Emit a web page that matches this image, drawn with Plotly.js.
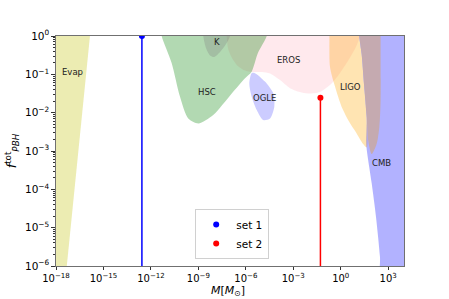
<!DOCTYPE html>
<html>
<head>
<meta charset="utf-8">
<script src="https://cdn.plot.ly/plotly-3.0.1.min.js"></script>
<style>html,body{margin:0;padding:0;background:#fff;} #chart{width:449px;height:299px;}</style>
</head>
<body>
<div id="chart"></div>
<script>
// Constraint regions: log10(M / Msun) and log10(f_PBH) vertices
const evapLogM = [-19, -15.78, -17.44, -19];
const evapLogF = [0.3, 0.3, -6.5, -6.5];

const erosLogM = [-7.25, -7.21, -7.13, -6.94, -6.56, -6.05, -5.63, -4.98, -4.47, -3.84, -3.21, -2.58, -2.07, -1.31, -0.68, -0.05, 0.58, 0.96, 1.22, 1.3];
const erosLogF = [0.3, 0, -0.31, -0.52, -0.76, -0.90, -0.94, -0.94, -0.98, -1.15, -1.36, -1.46, -1.50, -1.46, -1.28, -0.97, -0.57, -0.29, 0, 0.3];

const hscLogM = [-11.4, -11.32, -10.69, -10.16, -9.64, -9.0, -8.06, -6.89, -6.05, -5.63, -5.23, -4.68, -4.6];
const hscLogF = [0.3, 0, -0.705, -1.585, -2.15, -2.28, -2.06, -1.50, -1.10, -0.93, -0.44, 0, 0.3];

const kLogM = [-8.69, -8.69, -8.52, -8.27, -8.0, -7.63, -7.25, -7.0, -7.0];
const kLogF = [0.3, 0, -0.31, -0.50, -0.55, -0.42, -0.21, 0, 0.3];

const ogleLogM = [-5.63, -5.78, -5.63, -5.31, -4.90, -4.47, -4.20, -4.26, -4.79, -5.42, -5.63];
const ogleLogF = [-0.97, -1.235, -1.585, -1.93, -2.19, -2.15, -1.85, -1.50, -1.19, -0.97, -0.97];

const ligoLogM = [-0.75, -0.72, -0.68, -0.36, 0.06, 0.58, 0.96, 1.42, 1.64, 1.64, 1.47, 1.32, 1.17, 1.17];
const ligoLogF = [0.3, 0, -0.80, -1.32, -1.85, -2.27, -2.51, -2.82, -2.91, -2.12, -1.25, -0.47, 0, 0.3];

const cmbLogM = [1.17, 1.17, 1.32, 1.47, 1.64, 1.62, 1.68, 1.96, 2.23, 2.48, 2.58, 5, 5];
const cmbLogF = [0.3, 0, -0.47, -1.25, -2.12, -2.85, -3.08, -3.85, -4.72, -5.76, -6.5, -6.5, 0.3];

const xrayLogM = [1.17, 1.17, 1.32, 1.47, 1.64, 1.74, 1.96, 2.27, 2.44, 2.52, 2.52, 2.52];
const xrayLogF = [0.3, 0, -0.47, -1.25, -2.12, -2.73, -3.08, -2.82, -2.38, -1.69, 0, 0.3];

// Benchmark points
const setNames = ['set 1', 'set 2'];
const setMass = [2.7e-13, 0.052];
const setF = [1.0, 0.0245];
const setColors = ['#0000ff', '#ff0000'];

// Region labels
const labelText = ['Evap', 'K', 'HSC', 'OGLE', 'EROS', 'LIGO', 'CMB'];
const labelLogM = [-16.93, -7.84, -8.47, -4.83, -3.29, 0.63, 2.59];
const labelLogF = [-0.93, -0.15, -1.45, -1.63, -0.63, -1.32, -3.32];

// Axis ticks
const xTickExp = [-18, -15, -12, -9, -6, -3, 0, 3];
const yTickExp = [-6, -5, -4, -3, -2, -1, 0];

const p10 = a => a.map(v => Math.pow(10, v));
const sup = e => '10<sup>' + (e < 0 ? '\u2212' + (-e) : e) + '</sup>';

function region(lm, lf, color, smooth) {
  return {
    x: p10(lm), y: p10(lf), mode: 'lines', fill: 'toself', fillcolor: color,
    line: {width: 0, shape: smooth ? 'spline' : 'linear', smoothing: 0.75},
    hoverinfo: 'skip', showlegend: false
  };
}

const traces = [
  region(erosLogM, erosLogF, 'rgba(255,192,203,0.35)', true),
  region(evapLogM, evapLogF, 'rgba(191,191,0,0.3)', false),
  region(hscLogM, hscLogF, 'rgba(0,128,0,0.3)', true),
  region(kLogM, kLogF, 'rgba(128,128,128,0.3)', true),
  region(ogleLogM, ogleLogF, 'rgba(0,0,255,0.2)', true),
  region(ligoLogM, ligoLogF, 'rgba(255,165,0,0.3)', true),
  region(cmbLogM, cmbLogF, 'rgba(0,0,255,0.3)', true),
  region(xrayLogM, xrayLogF, 'rgb(197,170,176)', true)
];

for (let i = 0; i < setNames.length; i++) {
  traces.push({
    x: [setMass[i], setMass[i]], y: [1e-7, setF[i]], mode: 'lines',
    line: {color: setColors[i], width: 1.5}, showlegend: false, hoverinfo: 'skip'
  });
}
for (let i = 0; i < setNames.length; i++) {
  traces.push({
    x: [setMass[i]], y: [setF[i]], mode: 'markers', name: setNames[i],
    marker: {color: setColors[i], size: 6}, cliponaxis: true
  });
}

const yMinor = [];
for (let e = -6; e < 0; e++) for (let k = 2; k <= 9; k++) yMinor.push(k * Math.pow(10, e));

const annotations = labelText.map((t, i) => ({
  x: labelLogM[i], y: labelLogF[i], xref: 'x', yref: 'y', text: t, showarrow: false,
  font: {family: 'DejaVu Sans', size: 8.5, color: '#222'}
}));
annotations.push({
  x: 0.495, y: -0.1435, xref: 'paper', yref: 'paper', xanchor: 'center', yanchor: 'bottom',
  text: '<i>M</i>[<i>M</i><sub>\u2299</sub>]', showarrow: false,
  font: {family: 'DejaVu Sans', size: 11, color: '#000'}, borderpad: 0
});

const layout = {
  width: 449, height: 299,
  margin: {l: 56, r: 45, t: 36, b: 33},
  paper_bgcolor: '#fff', plot_bgcolor: '#fff',
  font: {family: 'DejaVu Sans', size: 10, color: '#000'},
  showlegend: true,
  legend: {
    x: 0.40, y: 0.03, xanchor: 'left', yanchor: 'bottom',
    bgcolor: 'rgba(255,255,255,0.9)', bordercolor: '#d0d0d0', borderwidth: 1,
    font: {family: 'DejaVu Sans', size: 10.5, color: '#000'},
    itemwidth: 30, tracegroupgap: 0
  },
  xaxis: {
    type: 'log', range: [-18, 4], showgrid: false, zeroline: false,
    showline: true, linecolor: '#707070', linewidth: 1.2, mirror: true,
    ticks: 'outside', ticklen: 3, tickcolor: '#333',
    tickmode: 'array', tickvals: p10(xTickExp), ticktext: xTickExp.map(sup),
    tickfont: {family: 'DejaVu Sans', size: 10, color: '#000'},
    automargin: false
  },
  yaxis: {
    type: 'log', range: [-6, 0], showgrid: false, zeroline: false,
    showline: true, linecolor: '#707070', linewidth: 1.2, mirror: true,
    ticks: 'outside', ticklen: 3.5, tickcolor: '#333',
    tickmode: 'array', tickvals: p10(yTickExp), ticktext: yTickExp.map(sup),
    tickfont: {family: 'DejaVu Sans', size: 10.5, color: '#000'},
    minor: {tickmode: 'array', tickvals: yMinor, ticks: 'outside', ticklen: 2, tickcolor: '#333', showgrid: false},
    title: {text: '<i>f</i><sup>tot</sup><sub><i>PBH</i></sub>', standoff: 5,
            font: {family: 'DejaVu Sans', size: 12.5, color: '#000'}},
    automargin: false
  },
  annotations: annotations
};

Plotly.newPlot('chart', traces, layout, {staticPlot: true, displayModeBar: false});
</script>
</body>
</html>
